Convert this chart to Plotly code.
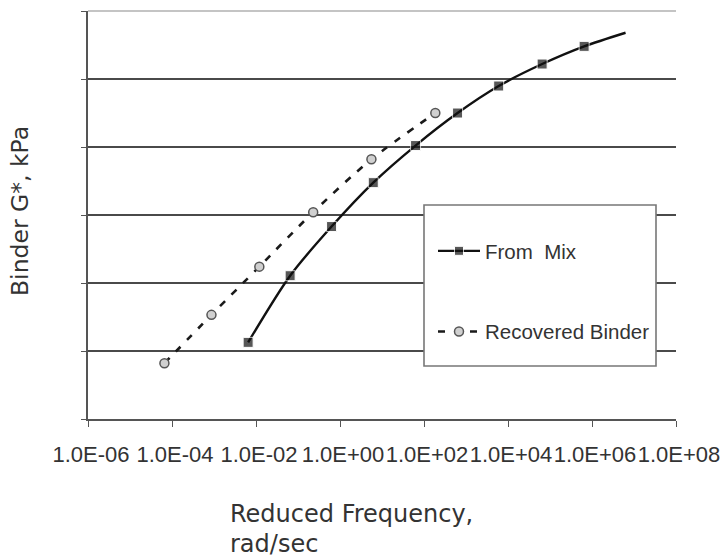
import plotly.graph_objects as go

# Reduced frequency (rad/sec) and binder G* (kPa)
mix_freq = [6.5e-3, 6.5e-2, 0.63, 6.2, 63, 630, 6.0e3, 6.5e4, 6.5e5, 6.3e6]
mix_gstar = [13.4, 128, 676, 2990, 10500, 31600, 78900, 166000, 302000, 479000]
mix_marker = [10, 10, 10, 10, 10, 10, 10, 10, 10, 0]

rec_freq = [6.6e-5, 8.7e-4, 1.2e-2, 0.23, 5.6, 186]
rec_gstar = [6.6, 34, 174, 1100, 6600, 31600]

x_tickvals = [1e-6, 1e-4, 1e-2, 1e0, 1e2, 1e4, 1e6, 1e8]
x_ticktext = ["1.0E-06", "1.0E-04", "1.0E-02", "1.0E+00", "1.0E+02", "1.0E+04", "1.0E+06", "1.0E+08"]
y_tickvals = [1e0, 1e1, 1e2, 1e3, 1e4, 1e5, 1e6]

x_title_lines = ["Reduced Frequency,", "rad/sec"]
y_title = "Binder G*, kPa"

W, H = 724, 558
L, R, T, B = 88, 48, 11, 139
pw, ph = W - L - R, H - T - B

def px_x(p):
    return (p - L) / pw

def px_y(p):
    return (H - B - p) / ph

fig = go.Figure()
fig.add_trace(go.Scatter(
    x=mix_freq, y=mix_gstar, name="From  Mix", mode="lines+markers",
    line=dict(color="#111111", width=2.4, shape="spline", smoothing=0.8),
    marker=dict(symbol="square", size=mix_marker, color="#111111"),
    legendgroup="a",
))
fig.add_trace(go.Scatter(
    x=rec_freq, y=rec_gstar, name="Recovered Binder", mode="lines+markers",
    line=dict(color="#1a1a1a", width=2.6, dash="7px,9px", shape="spline", smoothing=0.8),
    marker=dict(symbol="circle", size=9, color="#d0d0d0", line=dict(color="#555555", width=1.5)),
    legendgroup="b",
))

fig.add_shape(type="rect", xref="paper", yref="paper",
              x0=px_x(424), x1=px_x(656), y0=px_y(366), y1=px_y(205),
              line=dict(color="#777777", width=1.6), fillcolor="white", layer="above")
fig.add_shape(type="line", xref="paper", yref="paper",
              x0=0, x1=1, y0=1, y1=1, line=dict(color="#c4c4c4", width=2), layer="above")

for line_text, cy in zip(x_title_lines, [514, 544]):
    fig.add_annotation(text=line_text, xref="paper", yref="paper",
                       x=px_x(229), y=px_y(cy), xanchor="left", yanchor="middle", align="left",
                       borderpad=0, showarrow=False,
                       font=dict(family="DejaVu Sans", size=24, color="#333333"))
fig.add_annotation(text=y_title, xref="paper", yref="paper",
                   x=px_x(20), y=px_y(211), xanchor="center", yanchor="middle", textangle=-90,
                   showarrow=False, font=dict(family="DejaVu Sans", size=23.5, color="#333333"))

fig.update_layout(
    width=W, height=H,
    margin=dict(l=L, r=R, t=T, b=B, pad=0, autoexpand=False),
    paper_bgcolor="white", plot_bgcolor="white",
    font=dict(family="Liberation Sans", color="#333333"),
    showlegend=True,
    legend=dict(
        x=px_x(433), y=px_y(231), xanchor="left", yanchor="top",
        bgcolor="rgba(0,0,0,0)", borderwidth=0,
        font=dict(family="Liberation Sans", size=20.5, color="#333333"),
        itemwidth=42, tracegroupgap=51,
    ),
    xaxis=dict(
        type="log", range=[-6, 8], tickvals=x_tickvals, ticktext=x_ticktext,
        tickangle=0, showgrid=False, zeroline=False, automargin=False,
        showline=True, linecolor="#555555", linewidth=1.6,
        ticks="outside", ticklen=6, tickcolor="#555555", tickwidth=1.4,
        tickfont=dict(family="Liberation Sans", size=22, color="#333333"),
        ticklabelstandoff=9, ticklabelshift=3,
    ),
    yaxis=dict(
        type="log", range=[0, 6], tickvals=y_tickvals, showticklabels=False,
        showgrid=True, gridcolor="#4a4a4a", gridwidth=1.6, zeroline=False, automargin=False,
        showline=True, linecolor="#555555", linewidth=1.6,
        ticks="outside", ticklen=5, tickcolor="#555555", tickwidth=1.4,
    ),
)

fig.write_html("out.html")
